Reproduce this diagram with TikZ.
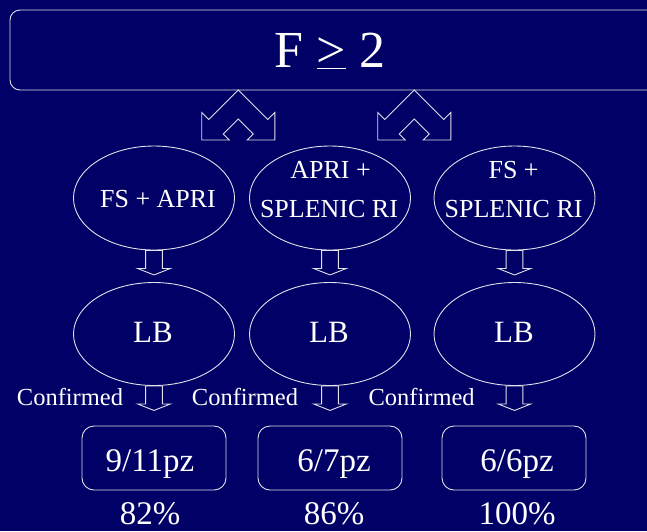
\documentclass[tikz,border=0pt]{standalone}
\usepackage{fontspec}
\setmainfont{Liberation Serif}
\usetikzlibrary{shapes.geometric}
\definecolor{navy}{RGB}{0,0,102}
\definecolor{rulecol}{RGB}{225,225,235}
\tikzset{
  outline/.style={draw=rulecol, line width=0.9pt},
  oval/.style={outline, ellipse, minimum width=161pt, minimum height=104pt, inner sep=0pt},
  resultbox/.style={outline, rounded corners=12pt, minimum width=144pt, minimum height=64pt, inner sep=0pt},
  txt/.style={text=white, anchor=base, inner sep=0pt},
  captxt/.style={txt, font=\fontsize{26}{30}\selectfont},
  lbtxt/.style={txt, font=\fontsize{31}{36}\selectfont},
  conftxt/.style={txt, font=\fontsize{24.5}{28}\selectfont},
  bigtxt/.style={txt, font=\fontsize{33}{38}\selectfont},
  % hollow block arrow pointing down, anchored at the middle of its top edge
  pics/downarrow/.style={code={
    \draw[outline, line join=miter] (-8.4,0) -- (-8.4,18) -- (-16.4,18) -- (0,24.5)
      -- (16.4,18) -- (8.4,18) -- (8.4,0) -- cycle;}},
  % hollow forked arrow: apex at the origin, two heads pointing down-left and down-right
  pics/forkarrow/.style={code={
    \draw[outline, line join=miter] (0,0) -- (29.5,29.5) -- (36.6,22.4) -- (36.6,50)
      -- (9,50) -- (15,44) -- (0,29) -- (-15,44) -- (-9,50) -- (-36.6,50)
      -- (-36.6,22.4) -- (-29.5,29.5) -- cycle;}},
}
\begin{document}
\begin{tikzpicture}[x=1pt, y=-1pt]
  \useasboundingbox (0,0) rectangle (647,531);
  \fill[navy] (0,0) rectangle (647,531);
  \clip (0,0) rectangle (647,531);

  % condition banner
  \node[outline, rounded corners=10pt, minimum width=660pt, minimum height=80pt, inner sep=0pt]
    (cond) at (340,50) {};
  \node[txt, font=\fontsize{52}{60}\selectfont] (title) at (330,67) {F \underline{>} 2};

  % split arrows below the banner
  \coordinate (forkL) at (238.3,90);
  \coordinate (forkR) at (414.3,90);
  \pic at (forkL) {forkarrow};
  \pic at (forkR) {forkarrow};

  % first row: combined scores
  \node[oval] (s1) at (154,198) {};
  \node[oval] (s2) at (330,198) {};
  \node[oval] (s3) at (514.5,198) {};
  \node[captxt] (s1a) at (158,207) {FS + APRI};
  \node[captxt] (s2a) at (330.5,178) {APRI +};
  \node[captxt] (s2b) at (329,217) {SPLENIC RI};
  \node[captxt] (s3a) at (513.6,178) {FS +};
  \node[captxt] (s3b) at (513.6,217) {SPLENIC RI};

  % second row: liver biopsy
  \node[oval, minimum height=103pt] (b1) at (154,334) {};
  \node[oval, minimum height=103pt] (b2) at (330,334) {};
  \node[oval, minimum height=103pt] (b3) at (514.5,334) {};
  \node[lbtxt] (b1t) at (153,342) {LB};
  \node[lbtxt] (b2t) at (329,342) {LB};
  \node[lbtxt] (b3t) at (514,342) {LB};

  \pic at (s1.south) {downarrow};
  \pic at (s2.south) {downarrow};
  \pic at (s3.south) {downarrow};
  \pic at (b1.south) {downarrow};
  \pic at (b2.south) {downarrow};
  \pic at (b3.south) {downarrow};

  \node[conftxt] (c1) at (70,405) {Confirmed};
  \node[conftxt] (c2) at (245,405) {Confirmed};
  \node[conftxt] (c3) at (421.6,405) {Confirmed};

  % outcome boxes
  \node[resultbox] (r1) at (154,458) {};
  \node[resultbox] (r2) at (330,458) {};
  \node[resultbox] (r3) at (514,458) {};
  \node[bigtxt] (r1t) at (150,471) {9/11pz};
  \node[bigtxt] (r2t) at (334,471) {6/7pz};
  \node[bigtxt] (r3t) at (517,471) {6/6pz};

  \node[bigtxt] (p1) at (150,524) {82\%};
  \node[bigtxt] (p2) at (334,524) {86\%};
  \node[bigtxt] (p3) at (517,524) {100\%};
\end{tikzpicture}
\end{document}
